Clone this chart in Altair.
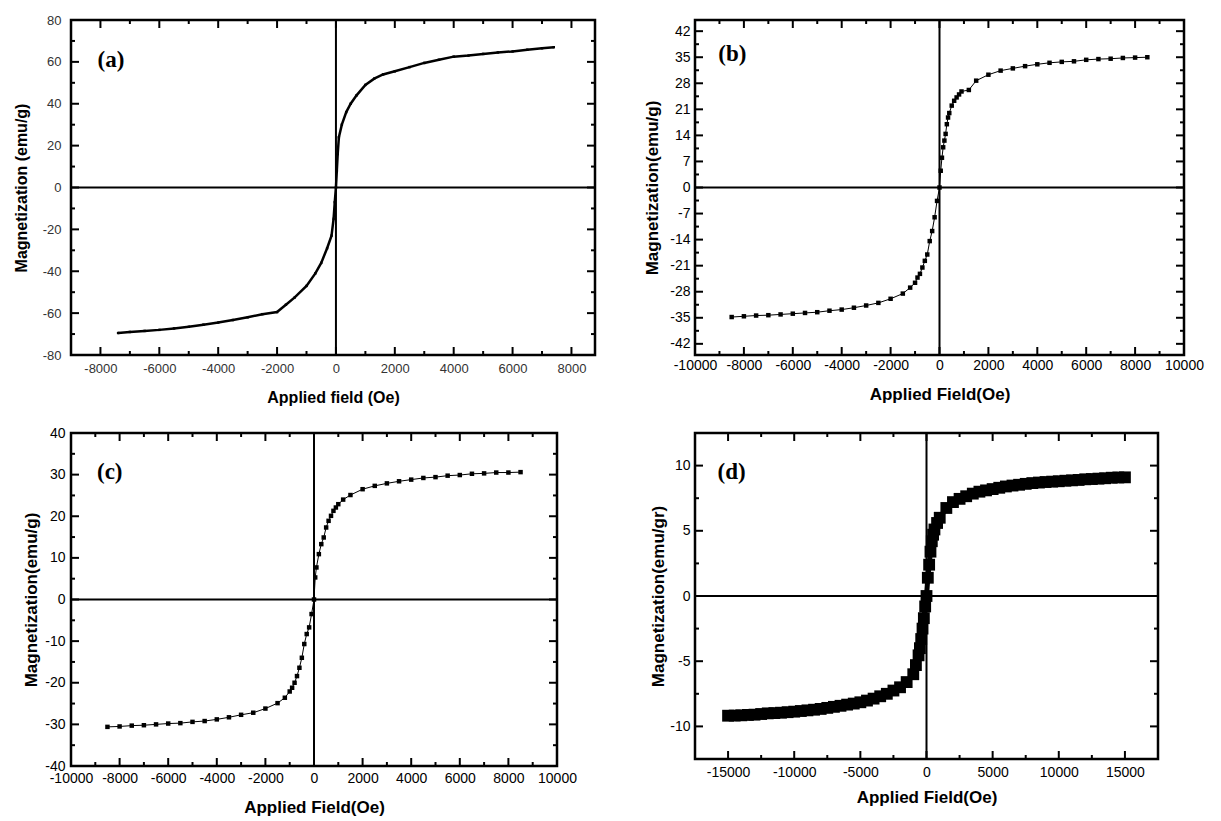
import altair as alt
import pandas as pd

# ---------------- data ----------------
# (a)
a_field = [-7400, -7000, -6500, -6000, -5500, -5000, -4500, -4000, -3500, -3000, -2500, -2000,
           -1700, -1400, -1000, -700, -500, -300, -150, -80, -40, 0,
           30, 60, 100, 200, 350, 500, 700, 1000, 1300, 1600, 2000, 2500, 3000, 3500, 4000,
           4500, 5000, 5500, 6000, 6500, 7000, 7400]
a_mag = [-69.5, -69, -68.5, -68, -67.3, -66.5, -65.5, -64.5, -63.3, -62, -60.5, -59.5,
         -56, -52.5, -47, -41, -36, -29, -23, -15, -7, 0,
         8, 16, 24, 30, 36, 40, 44, 49, 52, 54, 55.5, 57.5, 59.5, 61, 62.5,
         63, 63.8, 64.5, 65, 65.8, 66.5, 67]

# (b)
b_field = [-8500, -8000, -7500, -7000, -6500, -6000, -5500, -5000, -4500, -4000, -3500, -3000,
           -2500, -2000, -1500, -1200, -1000, -900, -800, -700, -600, -500, -400, -300, -200, -100,
           0, 50, 100, 150, 200, 250, 300, 350, 400, 500, 600, 700, 800, 900, 1200, 1500, 2000,
           2500, 3000, 3500, 4000, 4500, 5000, 5500, 6000, 6500, 7000, 7500, 8000, 8500]
b_mag = [-34.8, -34.6, -34.4, -34.3, -34.1, -33.9, -33.7, -33.5, -33.1, -32.8, -32.3, -31.7,
         -31.0, -29.9, -28.5, -26.9, -25.6, -24.2, -23.2, -21.5, -19.7, -18.0, -14.4, -11.7, -8.0, -3.6,
         0, 4.5, 8.0, 10.8, 12.6, 14.4, 17.0, 18.8, 20.0, 22.0, 23.3, 24.2, 25.0, 25.8, 26.2, 28.7, 30.3,
         31.4, 32.0, 32.6, 33.1, 33.5, 33.75, 33.9, 34.3, 34.5, 34.6, 34.8, 34.9, 35.0]

# (c)
c_field = [-8500, -8000, -7500, -7000, -6500, -6000, -5500, -5000, -4500, -4000, -3500, -3000,
           -2500, -2000, -1500, -1200, -1000, -900, -800, -700, -600, -500, -400, -300, -200, -100,
           0, 50, 100, 200, 300, 400, 500, 600, 700, 800, 900, 1000, 1200, 1500, 2000,
           2500, 3000, 3500, 4000, 4500, 5000, 5500, 6000, 6500, 7000, 7500, 8000, 8500]
c_mag = [-30.6, -30.5, -30.3, -30.2, -30.0, -29.8, -29.7, -29.4, -29.2, -28.8, -28.3, -27.7,
         -27.2, -26.2, -24.9, -23.6, -22.1, -21.2, -20.0, -18.4, -16.4, -14.0, -10.7, -8.3, -6.7, -3.5,
         0, 5.3, 7.7, 10.9, 13.3, 14.9, 17.3, 18.9, 20.1, 21.3, 22.1, 22.9, 24.0, 25.1, 26.5,
         27.3, 27.9, 28.4, 28.8, 29.2, 29.4, 29.75, 29.9, 30.2, 30.3, 30.5, 30.5, 30.6]

# (d)
d_field = [-15000, -14500, -14000, -13500, -13000, -12500, -12000, -11500, -11000, -10500, -10000,
           -9500, -9000, -8500, -8000, -7500, -7000, -6500, -6000, -5500, -5000, -4500, -4000,
           -3500, -3000, -2500, -2000, -1500, -1000, -800, -600, -500, -400, -300, -200, -100,
           0, 100, 200, 300, 400, 500, 600, 800, 1000, 1500, 2000, 2500, 3000, 3500, 4000, 4500,
           5000, 5500, 6000, 6500, 7000, 7500, 8000, 8500, 9000, 9500, 10000, 10500, 11000,
           11500, 12000, 12500, 13000, 13500, 14000, 14500, 15000]
d_mag = [-9.18, -9.17, -9.15, -9.12, -9.1, -9.05, -9.0, -8.98, -8.95, -8.91, -8.87,
         -8.82, -8.77, -8.72, -8.66, -8.58, -8.5, -8.42, -8.33, -8.25, -8.15, -8.02, -7.87,
         -7.69, -7.5, -7.25, -7.0, -6.6, -6.0, -5.3, -4.55, -4.0, -3.3, -2.5, -1.7, -0.8,
         0, 1.4, 2.4, 3.4, 4.2, 4.7, 5.1, 5.6, 6.0, 6.75, 7.2, 7.45, 7.65, 7.85, 8.0, 8.1,
         8.2, 8.3, 8.4, 8.47, 8.53, 8.6, 8.66, 8.7, 8.74, 8.77, 8.8, 8.84, 8.87,
         8.9, 8.95, 8.97, 9.0, 9.03, 9.07, 9.09, 9.1]

# tick label values
a_xlabels = [-8000, -6000, -4000, -2000, 0, 2000, 4000, 6000, 8000]
a_ylabels = [-80, -60, -40, -20, 0, 20, 40, 60, 80]
b_xlabels = [-10000, -8000, -6000, -4000, -2000, 0, 2000, 4000, 6000, 8000, 10000]
b_ylabels = [-42, -35, -28, -21, -14, -7, 0, 7, 14, 21, 28, 35, 42]
c_xlabels = [-10000, -8000, -6000, -4000, -2000, 0, 2000, 4000, 6000, 8000, 10000]
c_ylabels = [-40, -30, -20, -10, 0, 10, 20, 30, 40]
d_xlabels = [-15000, -10000, -5000, 0, 5000, 10000, 15000]
d_ylabels = [-10, -5, 0, 5, 10]

SANS = "Liberation Sans"
SERIF = "Liberation Serif"


def panel(xs, ys, xdom, ydom, W, H, xlab, ylab, xminor, yminor, xtitle, ytitle,
          tag, tag_xy, style, lab_size=14, title_size=17, lab_color="black",
          xlp=4, xtp=12, ylp=5, ytp=6):
    X = alt.X("x:Q", scale=alt.Scale(domain=xdom, nice=False, zero=False),
              axis=alt.Axis(values=xlab, labelExpr="toString(datum.value)", ticks=False,
                            domain=False, grid=False, labelPadding=xlp, titlePadding=xtp,
                            labelFont=SANS, labelFontSize=lab_size, labelColor=lab_color,
                            titleFont=SANS, titleFontSize=title_size, titleFontWeight="bold",
                            titleColor="black", labelFlush=False, labelOverlap=False),
              title=xtitle)
    Y = alt.Y("y:Q", scale=alt.Scale(domain=ydom, nice=False, zero=False),
              axis=alt.Axis(values=ylab, labelExpr="toString(datum.value)", ticks=False,
                            domain=False, grid=False, labelPadding=ylp, titlePadding=ytp,
                            labelFont=SANS, labelFontSize=lab_size, labelColor=lab_color,
                            titleFont=SANS, titleFontSize=title_size, titleFontWeight="bold",
                            titleColor="black", labelFlush=False, labelOverlap=False),
              title=ytitle)
    layers = []
    # zero lines
    layers.append(alt.Chart(pd.DataFrame({"x": [0]})).mark_rule(color="black", strokeWidth=2).encode(x=X))
    layers.append(alt.Chart(pd.DataFrame({"y": [0]})).mark_rule(color="black", strokeWidth=2).encode(y=Y))
    # inward ticks on all four sides
    for vals, L in ((xlab, 8), (xminor, 4)):
        base = alt.Chart(pd.DataFrame({"x": vals})).mark_rule(color="black", strokeWidth=2)
        layers.append(base.encode(x=X, y=alt.value(H), y2=alt.value(H - L)))
        layers.append(base.encode(x=X, y=alt.value(0), y2=alt.value(L)))
    for vals, L in ((ylab, 8), (yminor, 4)):
        base = alt.Chart(pd.DataFrame({"y": vals})).mark_rule(color="black", strokeWidth=2)
        layers.append(base.encode(y=Y, x=alt.value(0), x2=alt.value(L)))
        layers.append(base.encode(y=Y, x=alt.value(W), x2=alt.value(W - L)))
    # data
    df = pd.DataFrame({"x": xs, "y": ys})
    layers.append(alt.Chart(df).mark_line(color="black", strokeWidth=style["lw"]).encode(x=X, y=Y))
    if style["size"] > 0:
        layers.append(alt.Chart(df).mark_point(shape="square", filled=True, color="black",
                                               opacity=1, size=style["size"]).encode(x=X, y=Y))
    # panel tag
    layers.append(alt.Chart(pd.DataFrame({"x": [tag_xy[0]], "y": [tag_xy[1]], "t": [tag]}))
                  .mark_text(align="left", baseline="middle", font=SERIF, fontWeight="bold",
                             fontSize=23, color="black")
                  .encode(x=X, y=Y, text="t:N"))
    return alt.layer(*layers).properties(width=W, height=H)


pa = panel(a_field, a_mag, [-9000, 8800], [-80, 80], 524, 335, a_xlabels, a_ylabels,
           [-7000, -5000, -3000, -1000, 1000, 3000, 5000, 7000],
           [-70, -50, -30, -10, 10, 30, 50, 70],
           "Applied field (Oe)", "Magnetization (emu/g)", "(a)", (-8100, 61),
           {"lw": 2.5, "size": 6}, lab_size=13, title_size=16, lab_color="#333333",
           xlp=7, xtp=14, ylp=10, ytp=13)

pb = panel(b_field, b_mag, [-10000, 10000], [-45, 45], 489, 335, b_xlabels, b_ylabels,
           [-9000, -7000, -5000, -3000, -1000, 1000, 3000, 5000, 7000, 9000],
           [-38.5, -31.5, -24.5, -17.5, -10.5, -3.5, 3.5, 10.5, 17.5, 24.5, 31.5, 38.5],
           "Applied Field(Oe)", "Magnetization(emu/g)", "(b)", (-9050, 36),
           {"lw": 1, "size": 20}, xlp=3, xtp=14, ylp=5, ytp=8)

pc = panel(c_field, c_mag, [-10000, 10000], [-40, 40], 486, 333, c_xlabels, c_ylabels,
           [-9000, -7000, -5000, -3000, -1000, 1000, 3000, 5000, 7000, 9000],
           [-35, -25, -15, -5, 5, 25, 15, 35],
           "Applied Field(Oe)", "Magnetization(emu/g)", "(c)", (-8930, 30.6),
           {"lw": 1, "size": 20}, xlp=5, xtp=14, ylp=6, ytp=4)

pd_ = panel(d_field, d_mag, [-17500, 17500], [-12.5, 12.5], 463, 326, d_xlabels, d_ylabels,
            [-12500, -7500, -2500, 2500, 7500, 12500],
            [-7.5, -2.5, 2.5, 7.5],
            "Applied Field(Oe)", "Magnetization(emu/gr)", "(d)", (-15800, 9.5),
            {"lw": 5, "size": 140}, xlp=6, xtp=10, ylp=5, ytp=2)

chart = alt.concat(pa, pb, pc, pd_, columns=2, spacing={"row": 78, "column": 100},
                   bounds="flush").properties(
    padding={"left": 11, "top": 12, "right": 5, "bottom": 5},
    background="white",
).configure_view(stroke="black", strokeWidth=2.5)

chart.save("out.html", embed_options={"renderer": "svg", "actions": False})
